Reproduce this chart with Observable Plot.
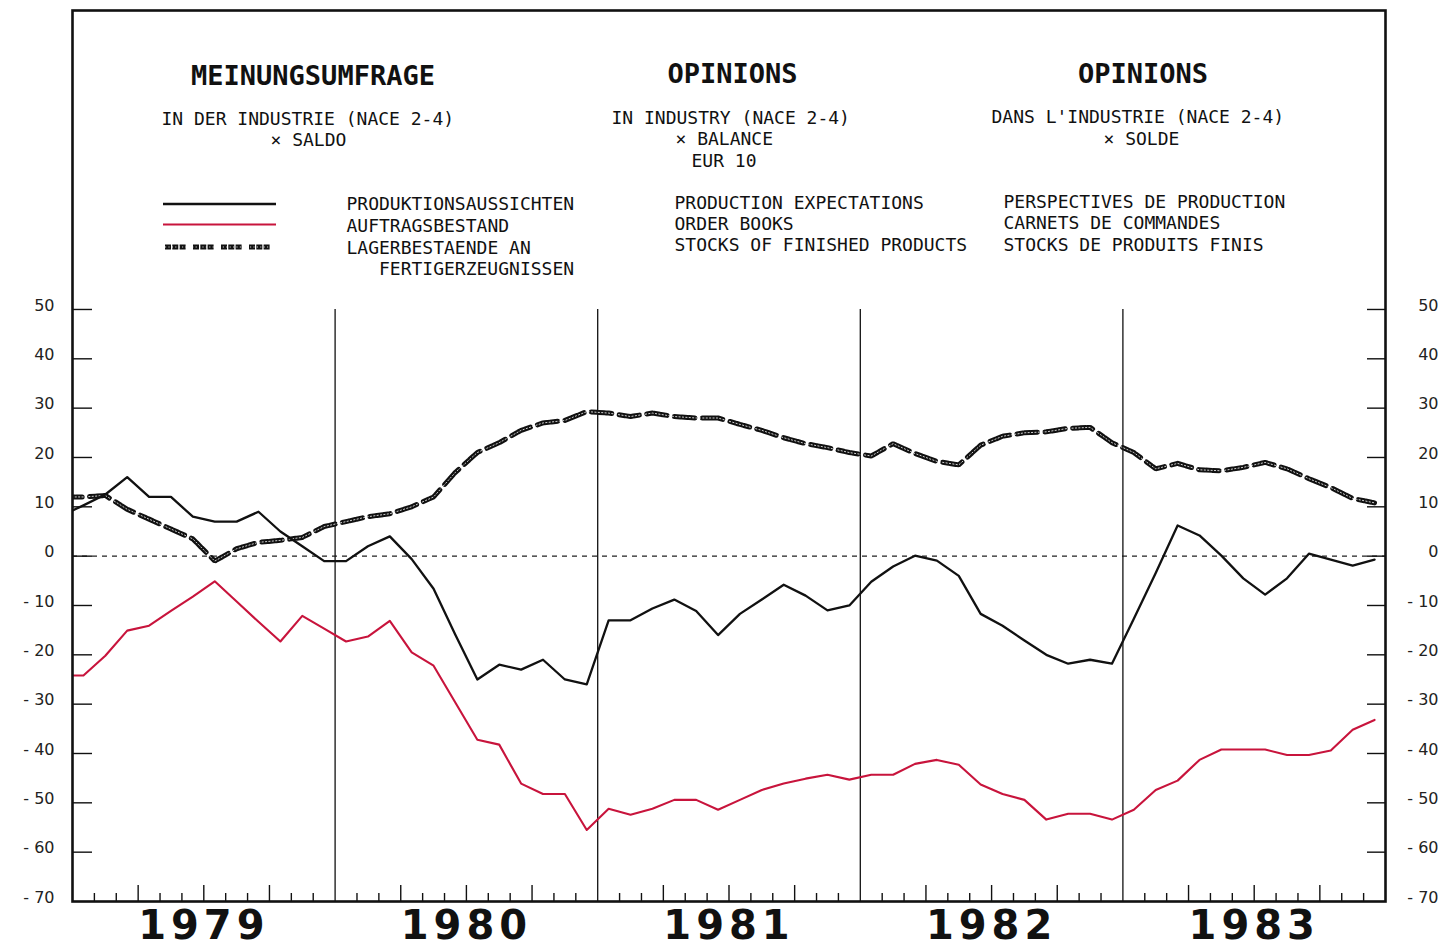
<!DOCTYPE html>
<html>
<head>
<meta charset="utf-8">
<script src="https://cdn.jsdelivr.net/npm/d3@7"></script>
<script src="https://cdn.jsdelivr.net/npm/@observablehq/plot@0.6"></script>
<style>
  html, body { margin: 0; padding: 0; background: #ffffff; }
  #chart svg { display: block; }
</style>
</head>
<body>
<div id="chart"></div>
<script>
// ---------------- DATA ----------------
// Monthly observations, mid-month, from December 1978 to December 1983 (61 values)
const firstYear = 1978, firstMonth = 12;

// Production expectations (black)
const production = [
  8.2,
  10.3, 12.5, 16, 12, 12, 8, 7, 7, 9, 5, 2, -1,
  -1, 2, 4, -0.6, -6.6, -16, -25, -22, -23, -21, -25, -26,
  -13, -13, -10.6, -8.8, -11.1, -16, -11.7, -8.8, -5.8, -8, -11, -10,
  -5.2, -2.1, 0.1, -0.9, -4, -11.7, -14.1, -17.1, -20, -21.8, -21, -21.8,
  -12.7, -3.4, 6.2, 4.2, 0.1, -4.5, -7.8, -4.5, 0.5, -0.7, -1.9, -0.7
];

// Order books (red)
const orders = [
  -24.2,
  -24.2, -20.2, -15.1, -14.1, -11.1, -8.2, -5.1, -9.2, -13.3, -17.3, -12.1, -14.7,
  -17.3, -16.3, -13.1, -19.5, -22.2, -29.7, -37.2, -38.2, -46.1, -48.2, -48.2, -55.5,
  -51.2, -52.4, -51.2, -49.4, -49.4, -51.4, -49.4, -47.4, -46.1, -45.1, -44.3, -45.3,
  -44.3, -44.3, -42.1, -41.3, -42.3, -46.3, -48.2, -49.4, -53.4, -52.2, -52.2, -53.4,
  -51.4, -47.4, -45.5, -41.3, -39.2, -39.2, -39.2, -40.3, -40.3, -39.4, -35.2, -33.2
];

// Stocks of finished products (heavy dashed)
const stocks = [
  12,
  12, 12.3, 9.5, 7.5, 5.5, 3.5, -1, 1.5, 2.8, 3.2, 3.8, 6,
  7, 8, 8.6, 10, 12, 17, 21, 23, 25.5, 27, 27.5, 29.3,
  29, 28.3, 29, 28.3, 28, 28, 26.7, 25.5, 24, 22.8, 22, 21,
  20.3, 22.8, 20.8, 19.2, 18.5, 22.5, 24.3, 25, 25.2, 25.9, 26.1, 23,
  21, 17.7, 18.8, 17.5, 17.3, 18, 19, 17.7, 15.7, 13.9, 11.7, 10.8
];

const years = [1979, 1980, 1981, 1982, 1983];
const yTicks = [50, 40, 30, 20, 10, 0, -10, -20, -30, -40, -50, -60, -70];

const titleDE = "MEINUNGSUMFRAGE";
const titleEN = "OPINIONS";
const titleFR = "OPINIONS";
const subDE = ["IN DER INDUSTRIE (NACE 2-4)", "× SALDO"];
const subEN = ["IN INDUSTRY (NACE 2-4)", "× BALANCE", "EUR 10"];
const subFR = ["DANS L'INDUSTRIE (NACE 2-4)", "× SOLDE"];
const legendDE = ["PRODUKTIONSAUSSICHTEN", "AUFTRAGSBESTAND", "LAGERBESTAENDE AN", "FERTIGERZEUGNISSEN"];
const legendEN = ["PRODUCTION EXPECTATIONS", "ORDER BOOKS", "STOCKS OF FINISHED PRODUCTS"];
const legendFR = ["PERSPECTIVES DE PRODUCTION", "CARNETS DE COMMANDES", "STOCKS DE PRODUITS FINIS"];

// ---------------- BUILD ----------------
const W = 1456, H = 947;
const mL = 72, mR = 71, mT = 10, mB = 46;
const innerW = W - mL - mR, innerH = H - mT - mB;
const RED = "#c8143c";

const monthX = i => firstYear + (firstMonth - 1 + i + 0.5) / 12;
const rows = production.map((v, i) => ({
  x: monthX(i), production: v, orders: orders[i], stocks: stocks[i]
}));

const quarterTicks = [];
const monthTicks = [];
d3.range(1, 60).forEach(k => {
  if (k % 12 === 0) return;
  if (k % 3 === 0) quarterTicks.push(1979 + k / 12);
  else monthTicks.push(1979 + k / 12);
});

const fmtY = d => d < 0 ? "- " + Math.abs(d) : String(d);
const MONO = "DejaVu Sans Mono";
const SANS = "DejaVu Sans";

function label(str, dx, dy, opts = {}) {
  return Plot.text([str], {
    text: d => d, frameAnchor: "top-left", dx, dy,
    textAnchor: opts.anchor || "start", lineAnchor: "middle",
    fontSize: opts.size || 18, fontFamily: MONO,
    fontWeight: opts.weight || "normal", fill: "#111"
  });
}

const dashStocks = "6,1.3,6,1.3,6,7.4";
const speckle = "1.2,2.2";

// legend swatches drawn in pixel space
const swatches = (index, scales, values, dims) => {
  const g = d3.create("svg:g");
  const x1 = 163, x2 = 276;
  g.append("line").attr("x1", x1).attr("x2", x2).attr("y1", 204).attr("y2", 204)
    .attr("stroke", "#111").attr("stroke-width", 2.4);
  g.append("line").attr("x1", x1).attr("x2", x2).attr("y1", 224.5).attr("y2", 224.5)
    .attr("stroke", RED).attr("stroke-width", 2.2);
  g.append("line").attr("x1", x1 + 2).attr("x2", x2).attr("y1", 247).attr("y2", 247)
    .attr("stroke", "#111").attr("stroke-width", 5).attr("stroke-dasharray", dashStocks);
  g.append("line").attr("x1", x1 + 2).attr("x2", x2).attr("y1", 247).attr("y2", 247)
    .attr("stroke", "#fff").attr("stroke-width", 1).attr("stroke-opacity", 0.8)
    .attr("stroke-dasharray", speckle);
  return g.node();
};

const chart = Plot.plot({
  width: W, height: H,
  marginLeft: mL, marginRight: mR, marginTop: mT, marginBottom: mB,
  style: { background: "#ffffff", overflow: "visible" },
  x: { domain: [1979, 1984], axis: null },
  y: { domain: [-70, 110.6], axis: null },
  marks: [
    // zero reference
    Plot.ruleY([0], { stroke: "#222", strokeWidth: 1.1, strokeDasharray: "5,5" }),
    // year separators
    Plot.ruleX(years.slice(1), { x: d => d, y1: -70, y2: 50, stroke: "#111", strokeWidth: 1.3 }),
    // month ticks along the bottom
    Plot.ruleX(monthTicks, { x: d => d, insetTop: innerH - 8, stroke: "#111", strokeWidth: 1.4 }),
    Plot.ruleX(quarterTicks, { x: d => d, insetTop: innerH - 16, stroke: "#111", strokeWidth: 1.4 }),
    // y ticks on both sides (pointing inward)
    Plot.ruleY(yTicks.slice(0, -1), { y: d => d, insetRight: innerW - 20, stroke: "#111", strokeWidth: 1.4 }),
    Plot.ruleY(yTicks.slice(0, -1), { y: d => d, insetLeft: innerW - 18, stroke: "#111", strokeWidth: 1.4 }),
    // y labels
    Plot.text(yTicks, { y: d => d, text: fmtY, frameAnchor: "left", dx: -18, dy: -4,
      textAnchor: "end", lineAnchor: "middle", fontSize: 16, fontFamily: SANS, fill: "#222" }),
    Plot.text(yTicks, { y: d => d, text: fmtY, frameAnchor: "right", dx: 53, dy: -4,
      textAnchor: "end", lineAnchor: "middle", fontSize: 16, fontFamily: SANS, fill: "#222" }),
    // year labels
    Plot.text(years, { x: d => d + 0.5, text: d => String(d), frameAnchor: "bottom", dy: 25,
      lineAnchor: "middle", fontSize: 40, fontWeight: "bold", fontFamily: SANS, fill: "#111" }),
    // series
    Plot.line(rows, { x: "x", y: "stocks", stroke: "#111", strokeWidth: 5,
      strokeDasharray: dashStocks, strokeLinejoin: "miter", clip: true }),
    Plot.line(rows, { x: "x", y: "stocks", stroke: "#fff", strokeWidth: 1, strokeOpacity: 0.8,
      strokeDasharray: speckle, clip: true }),
    Plot.line(rows, { x: "x", y: "orders", stroke: RED, strokeWidth: 2.1, clip: true }),
    Plot.line(rows, { x: "x", y: "production", stroke: "#111", strokeWidth: 2.3, clip: true }),
    // titles
    label(titleDE, 240.5, 66, { anchor: "middle", size: 27, weight: "bold" }),
    label(titleEN, 660, 64, { anchor: "middle", size: 27, weight: "bold" }),
    label(titleFR, 1070.5, 64, { anchor: "middle", size: 27, weight: "bold" }),
    label(subDE[0], 89, 109), label(subDE[1], 198, 130),
    label(subEN[0], 539, 108), label(subEN[1], 603, 129), label(subEN[2], 619, 151),
    label(subFR[0], 919, 107), label(subFR[1], 1031, 128.5),
    label(legendDE[0], 274, 194), label(legendDE[1], 274, 215.5),
    label(legendDE[2], 274, 237.5), label(legendDE[3], 306.5, 258.5),
    label(legendEN[0], 602, 193), label(legendEN[1], 602, 214), label(legendEN[2], 602, 235),
    label(legendFR[0], 931, 191.5), label(legendFR[1], 931, 213), label(legendFR[2], 931, 235),
    swatches,
    Plot.frame({ stroke: "#111", strokeWidth: 2.6 })
  ]
});

d3.select(chart).selectAll("text")
  .filter(function () { return /^19\d\d$/.test(this.textContent); })
  .attr("letter-spacing", "5px");

document.getElementById("chart").appendChild(chart);
</script>
</body>
</html>
